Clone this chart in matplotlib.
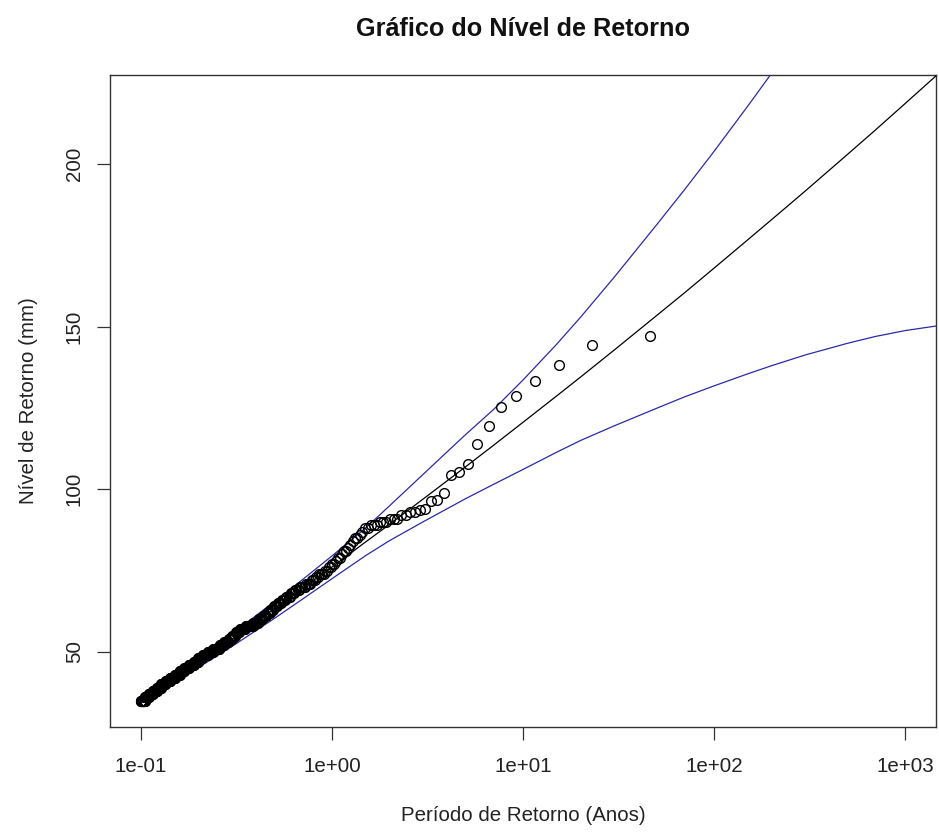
import numpy as np
import matplotlib
matplotlib.use("Agg")
import matplotlib.pyplot as plt

plt.rcParams["font.family"] = ["Liberation Sans", "DejaVu Sans"]

# Fitted return-level curve and its 95% confidence band (mm), by return period (years)
curve_period = [0.1, 0.15, 0.2, 0.3, 0.5, 0.7, 1, 1.5, 2, 3, 5, 7, 10, 15, 20, 30,
                50, 70, 100, 150, 200, 300, 500, 700, 1000, 1450]
curve_level = [34.5, 41.6, 46.7, 54.0, 63.3, 69.5, 76.1, 83.8, 89.2, 97.0, 106.9,
               113.5, 120.6, 128.7, 134.5, 142.8, 153.4, 160.4, 168.0, 176.7,
               182.9, 191.7, 203.0, 210.5, 218.6, 227.1]
upper_level = [34.8, 42.4, 47.8, 55.5, 65.5, 72.2, 79.5, 88.1, 94.9, 104.6, 116.8,
               124.5, 133.6, 144.6, 152.9, 165.2, 181.3, 192.1, 203.9, 217.8,
               227.9, 242.7, 262.0, 275.1, 289.4, 304.6]
lower_level = [34.2, 40.6, 45.2, 51.7, 60.3, 66.2, 72.5, 79.6, 84.2, 90.0, 97.1,
               101.5, 106.1, 111.4, 115.0, 119.5, 124.9, 128.4, 131.8, 135.5,
               138.0, 141.3, 144.9, 147.0, 148.8, 150.2]

# Observed exceedances: largest events individually, the rest as counts per whole mm
top_levels = [147.2, 144.4, 138.2, 133.4, 128.8, 125.2, 119.5, 113.8, 107.8, 105.3,
              104.5, 99.0, 96.6, 96.4, 94.0, 93.7]
level_mm = [35, 36, 37, 38, 39, 40, 41, 42, 43, 44,
            45, 46, 47, 48, 49, 50, 51, 52, 53, 54,
            55, 56, 57, 58, 59, 60, 61, 62, 63, 64,
            65, 66, 67, 68, 69, 70, 71, 72, 73, 74,
            75, 76, 77, 78, 79, 80, 81, 82, 83, 84,
            85, 86, 87, 88, 89, 90, 91, 92, 93]
level_count = [22, 20, 20, 19, 19, 19, 19, 18, 17, 15,
               15, 15, 13, 12, 13, 13, 14, 10, 9, 6,
               7, 7, 9, 12, 7, 6, 5, 4, 4, 4,
               5, 4, 4, 4, 4, 5, 4, 3, 2, 4,
               2, 2, 2, 1, 2, 1, 2, 1, 1, 1,
               2, 1, 1, 2, 3, 3, 3, 2, 2]
record_years = 46.2

x_ticks = [0.1, 1, 10, 100, 1000]
x_tick_labels = ["1e-01", "1e+00", "1e+01", "1e+02", "1e+03"]
y_ticks = [50, 100, 150, 200]
y_tick_labels = ["50", "100", "150", "200"]

# Empirical return periods from the ranks of the sorted observations
observed = np.sort(np.concatenate([np.repeat(level_mm, level_count), top_levels]))[::-1]
rank = np.arange(1, observed.size + 1)
empirical_period = record_years / rank

W, H = 939, 835
fig = plt.figure(figsize=(W / 100, H / 100), dpi=100)
left, right, top, bottom = 110, 936, 75, 727
ax = fig.add_axes([left / W, 1 - bottom / H, (right - left) / W, (bottom - top) / H])

blue = "#2a2aa8"
ax.plot(curve_period, curve_level, color="black", lw=0.9, zorder=3)
ax.plot(curve_period, upper_level, color=blue, lw=0.9, zorder=3)
ax.plot(curve_period, lower_level, color=blue, lw=0.9, zorder=3)
ax.plot(empirical_period, observed, linestyle="none", marker="o", markersize=7.0,
        markerfacecolor="none", markeredgecolor="black", markeredgewidth=1.0, zorder=4)

ax.set_xscale("log")
ax.set_xlim(10 ** -1.162, 10 ** 3.162)
ax.set_ylim(26.9, 227.4)

ax.set_xticks(x_ticks)
ax.set_xticklabels(x_tick_labels)
ax.xaxis.set_minor_locator(matplotlib.ticker.NullLocator())
ax.set_yticks(y_ticks)
ax.set_yticklabels(y_tick_labels, rotation=90, va="center")

for s in ax.spines.values():
    s.set_linewidth(1.0)
    s.set_color("#333333")
ax.tick_params(axis="both", direction="out", length=9.4, width=0.9, colors="#333333",
               labelcolor="#222222", labelsize=14.8)
ax.tick_params(axis="x", pad=12.5)
ax.tick_params(axis="y", pad=9.5)

ax.set_xlabel("Período de Retorno (Anos)", fontsize=14.8, color="#222222", labelpad=21)
ax.set_ylabel("Nível de Retorno (mm)", fontsize=14.8, color="#222222", labelpad=19)

fig.text((left + right) / 2 / W, 1 - 29 / H, "Gráfico do Nível de Retorno",
         ha="center", va="center", fontsize=18.2, fontweight="bold", color="#111111")

fig.savefig("out.png", dpi=100)
